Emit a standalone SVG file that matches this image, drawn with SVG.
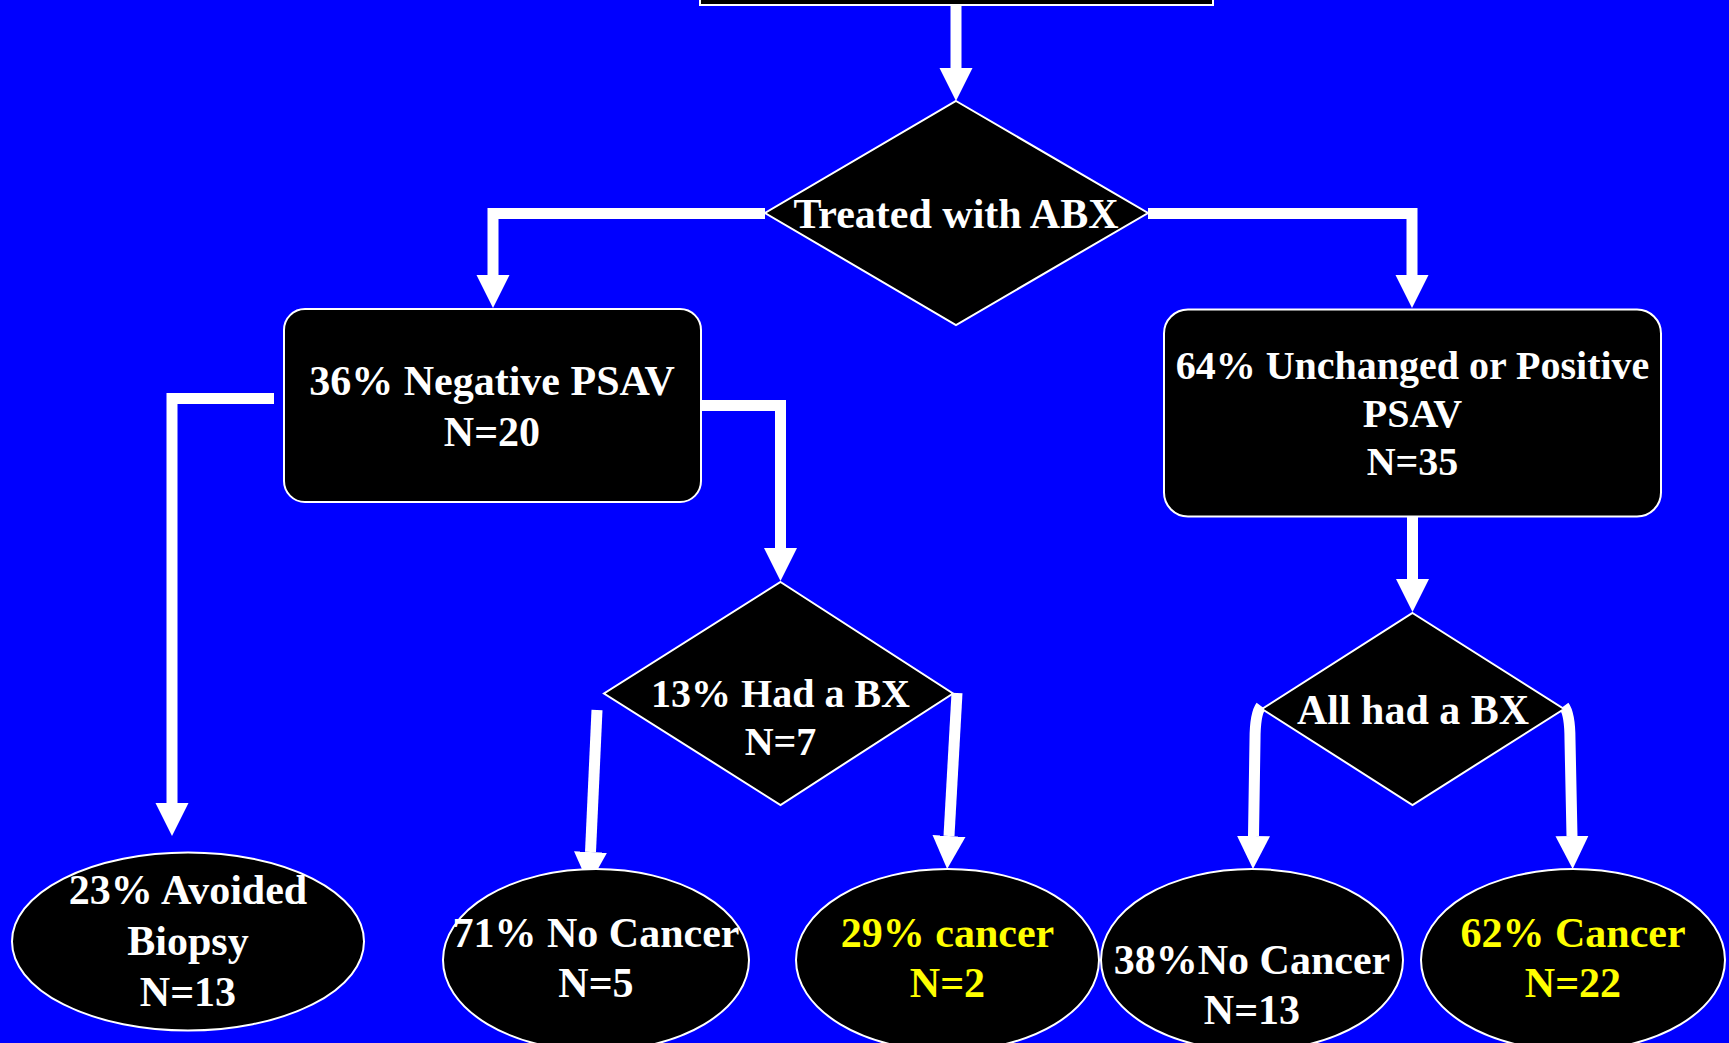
<svg xmlns="http://www.w3.org/2000/svg" width="1729" height="1043" viewBox="0 0 1729 1043">
<defs>
<marker id="ah" markerUnits="userSpaceOnUse" markerWidth="34" markerHeight="34" viewBox="0 -17 34 34" refX="0" refY="0" orient="auto">
<path d="M0,-16.5 L33,0 L0,16.5 Z" fill="#fff"/>
</marker>
<style>
.node{fill:#000;stroke:#fff;stroke-width:2}
.t{font-family:"Liberation Serif","Times New Roman",serif;font-weight:bold;font-size:42px;fill:#fff;text-anchor:middle}
.s40{font-size:40px}
.y{fill:#ffff00}
.c{fill:none;stroke:#fff;stroke-width:11;stroke-linejoin:miter;stroke-linecap:butt;marker-end:url(#ah)}
</style>
</defs>
<rect width="1729" height="1043" fill="#0000ff"/>
<g id="connectors">
<path class="c" d="M956,5 L956,68"/>
<path class="c" d="M765,213.5 L493,213.5 L493,275"/>
<path class="c" d="M1148,213.5 L1412,213.5 L1412,275"/>
<path class="c" d="M701,405.5 L780.5,405.5 L780.5,548"/>
<path class="c" d="M274,398.5 L172,398.5 L172,803"/>
<path class="c" d="M1412.5,517 L1412.5,579"/>
<path class="c" d="M597,710 L590.5,852"/>
<path class="c" d="M957,693 L949,836"/>
<path class="c" d="M1261,706 Q1255,714 1255,740 L1253.5,836"/>
<path class="c" d="M1564,706 Q1570,714 1570,740 L1572,836"/>
</g>
<g id="top-box">
<rect class="node" x="700" y="-40" width="513" height="45"/>
</g>
<g id="treated">
<polygon class="node" points="956,101 1148,213 956,325 765,213"/>
<text class="t" x="956" y="228">Treated with ABX</text>
</g>
<g id="negative">
<rect class="node" x="284" y="309" width="417" height="193" rx="21" ry="21"/>
<text class="t" x="492" y="395">36% Negative PSAV</text>
<text class="t" x="492" y="446">N=20</text>
</g>
<g id="unchanged">
<rect class="node" x="1164" y="309.5" width="497" height="207" rx="24" ry="24"/>
<text class="t s40" x="1412.5" y="379">64% Unchanged or Positive</text>
<text class="t s40" x="1412.5" y="427">PSAV</text>
<text class="t s40" x="1412.5" y="475">N=35</text>
</g>
<g id="had-bx">
<polygon class="node" points="780.5,582 953,693.5 780.5,805 604,693.5"/>
<text class="t s40" x="780.5" y="707">13% Had a BX</text>
<text class="t s40" x="780.5" y="755">N=7</text>
</g>
<g id="all-bx">
<polygon class="node" points="1412.5,613 1564,709 1412.5,805 1262,709"/>
<text class="t" x="1413" y="724">All had a BX</text>
</g>
<g id="avoided">
<ellipse class="node" cx="188" cy="941.5" rx="176" ry="89"/>
<text class="t" x="188" y="904">23% Avoided</text>
<text class="t" x="188" y="955">Biopsy</text>
<text class="t" x="188" y="1006">N=13</text>
</g>
<g id="no-cancer-5">
<ellipse class="node" cx="596" cy="960" rx="153" ry="91"/>
<text class="t" x="596" y="947">71% No Cancer</text>
<text class="t" x="596" y="997">N=5</text>
</g>
<g id="cancer-2">
<ellipse class="node" cx="947.5" cy="960" rx="151.5" ry="91"/>
<text class="t y" x="947.5" y="947">29% cancer</text>
<text class="t y" x="947.5" y="997">N=2</text>
</g>
<g id="no-cancer-13">
<ellipse class="node" cx="1252" cy="960" rx="151" ry="91"/>
<text class="t" x="1252" y="974">38%No Cancer</text>
<text class="t" x="1252" y="1024">N=13</text>
</g>
<g id="cancer-22">
<ellipse class="node" cx="1573" cy="960" rx="152" ry="91"/>
<text class="t y" x="1573" y="947">62% Cancer</text>
<text class="t y" x="1573" y="997">N=22</text>
</g>
</svg>
